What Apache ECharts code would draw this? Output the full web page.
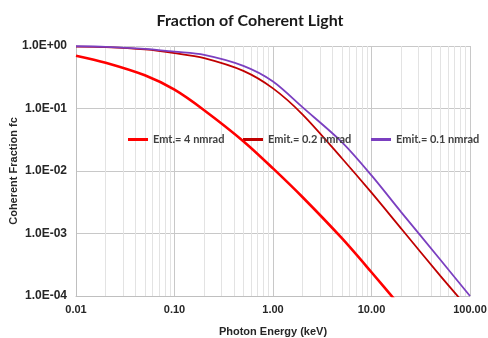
<!DOCTYPE html>
<html>
<head>
<meta charset="utf-8">
<script src="https://cdn.jsdelivr.net/npm/echarts@6/dist/echarts.min.js"></script>
<style>
  html, body { margin: 0; padding: 0; background: #fff; }
  #chart { width: 488px; height: 338px; }
</style>
</head>
<body>
<div id="chart"></div>
<script>
  // photon energy (keV)
  var energy = [0.01, 0.02, 0.05, 0.1, 0.2, 0.5, 1, 2, 5, 10, 20, 50, 100]
  // coherent fraction for each emittance
  var emt4 = [0.70, 0.54, 0.34, 0.20, 0.094, 0.030, 0.011, 0.0038, 0.00084, 0.00024, 0.000066]
  var emt02 = [0.98, 0.96, 0.88, 0.77, 0.64, 0.40, 0.21, 0.08, 0.016, 0.0045, 0.0012, 0.00021, 0.000059]
  var emt01 = [0.99, 0.97, 0.90, 0.81, 0.72, 0.48, 0.27, 0.104, 0.029, 0.0085, 0.0022, 0.00038, 0.0001]
  var seriesNames = ['Emt.= 4 nmrad', 'Emit.= 0.2 nmrad', 'Emit.= 0.1 nmrad']
  // extra vertical grid lines between decades
  var minorX = [0.02, 0.03, 0.04, 0.05, 0.06, 0.07, 0.08, 0.09,
    0.2, 0.3, 0.4, 0.5, 0.6, 0.7, 0.8, 0.9,
    2, 3, 4, 5, 6, 7, 8, 9,
    20, 30, 40, 50, 60, 70, 80, 90]

  function pairs (ys) {
    return ys.map(function (y, i) { return [energy[i], y] })
  }

  function sciLabel (v) {
    var exp = Math.round(Math.log10(v))
    var mant = v / Math.pow(10, exp)
    var sign = exp < 0 ? '-' : '+'
    var e = Math.abs(exp)
    return mant.toFixed(1) + 'E' + sign + (e < 10 ? '0' + e : e)
  }

  var chart = echarts.init(document.getElementById('chart'))
  var labelFont = { fontFamily: 'Liberation Sans', fontWeight: 'bold', fontSize: 11, color: '#262626' }
  var legendText = { fontFamily: 'Lato', fontWeight: 'bold', fontSize: 11, color: '#404040' }

  chart.setOption({
    animation: false,
    title: {
      text: 'Fraction of Coherent Light',
      left: 245,
      textAlign: 'center',
      top: 8,
      textStyle: { fontFamily: 'Lato', fontWeight: 'bold', fontSize: 16, color: '#1a1a1a' }
    },
    legend: [
      { data: [seriesNames[0]], left: 123, top: 129 },
      { data: [seriesNames[1]], left: 238, top: 129 },
      { data: [seriesNames[2]], left: 366, top: 129 }
    ].map(function (l) {
      l.icon = 'rect'
      l.itemWidth = 20
      l.itemHeight = 3
      l.itemGap = 2
      l.textStyle = legendText
      return l
    }),
    grid: {
      left: 76,
      right: 18,
      top: 46,
      bottom: 42,
      outerBoundsMode: 'none'
    },
    xAxis: {
      type: 'log',
      min: 0.01,
      max: 100,
      logBase: 10,
      name: 'Photon Energy (keV)',
      nameLocation: 'middle',
      nameGap: 30,
      nameMoveOverlap: false,
      nameTextStyle: labelFont,
      axisLine: { lineStyle: { color: '#bfbfbf' } },
      axisTick: { show: false },
      axisLabel: Object.assign({
        margin: 8,
        formatter: function (v) { return v.toFixed(2) }
      }, labelFont),
      splitLine: { show: true, lineStyle: { color: '#c8c8c8', width: 1 } }
    },
    yAxis: {
      type: 'log',
      min: 0.0001,
      max: 1,
      logBase: 10,
      name: 'Coherent Fraction fc',
      nameLocation: 'middle',
      nameGap: 57,
      nameMoveOverlap: false,
      nameTextStyle: labelFont,
      axisLine: { show: true, lineStyle: { color: '#bfbfbf' } },
      axisTick: { show: false },
      axisLabel: Object.assign({
        margin: 9,
        formatter: sciLabel
      }, labelFont, { fontSize: 12 }),
      splitLine: { show: true, lineStyle: { color: '#c8c8c8', width: 1 } }
    },
    series: [
      {
        name: seriesNames[0],
        type: 'line',
        symbol: 'none',
        smooth: 0.3,
        data: pairs(emt4),
        itemStyle: { color: '#ff0000' },
        lineStyle: { color: '#ff0000', width: 2.6 },
        z: 4,
        markLine: {
          silent: true,
          symbol: 'none',
          label: { show: false },
          lineStyle: { color: '#e3e3e3', width: 1, type: 'solid' },
          data: minorX.map(function (x) { return { xAxis: x } }),
          z: 1
        }
      },
      {
        name: seriesNames[1],
        type: 'line',
        symbol: 'none',
        smooth: 0.3,
        data: pairs(emt02),
        itemStyle: { color: '#c00000' },
        lineStyle: { color: '#c00000', width: 1.8 },
        z: 3
      },
      {
        name: seriesNames[2],
        type: 'line',
        symbol: 'none',
        smooth: 0.3,
        data: pairs(emt01),
        itemStyle: { color: '#7b3fc0' },
        lineStyle: { color: '#7b3fc0', width: 1.8 },
        z: 3
      }
    ]
  })
</script>
</body>
</html>
